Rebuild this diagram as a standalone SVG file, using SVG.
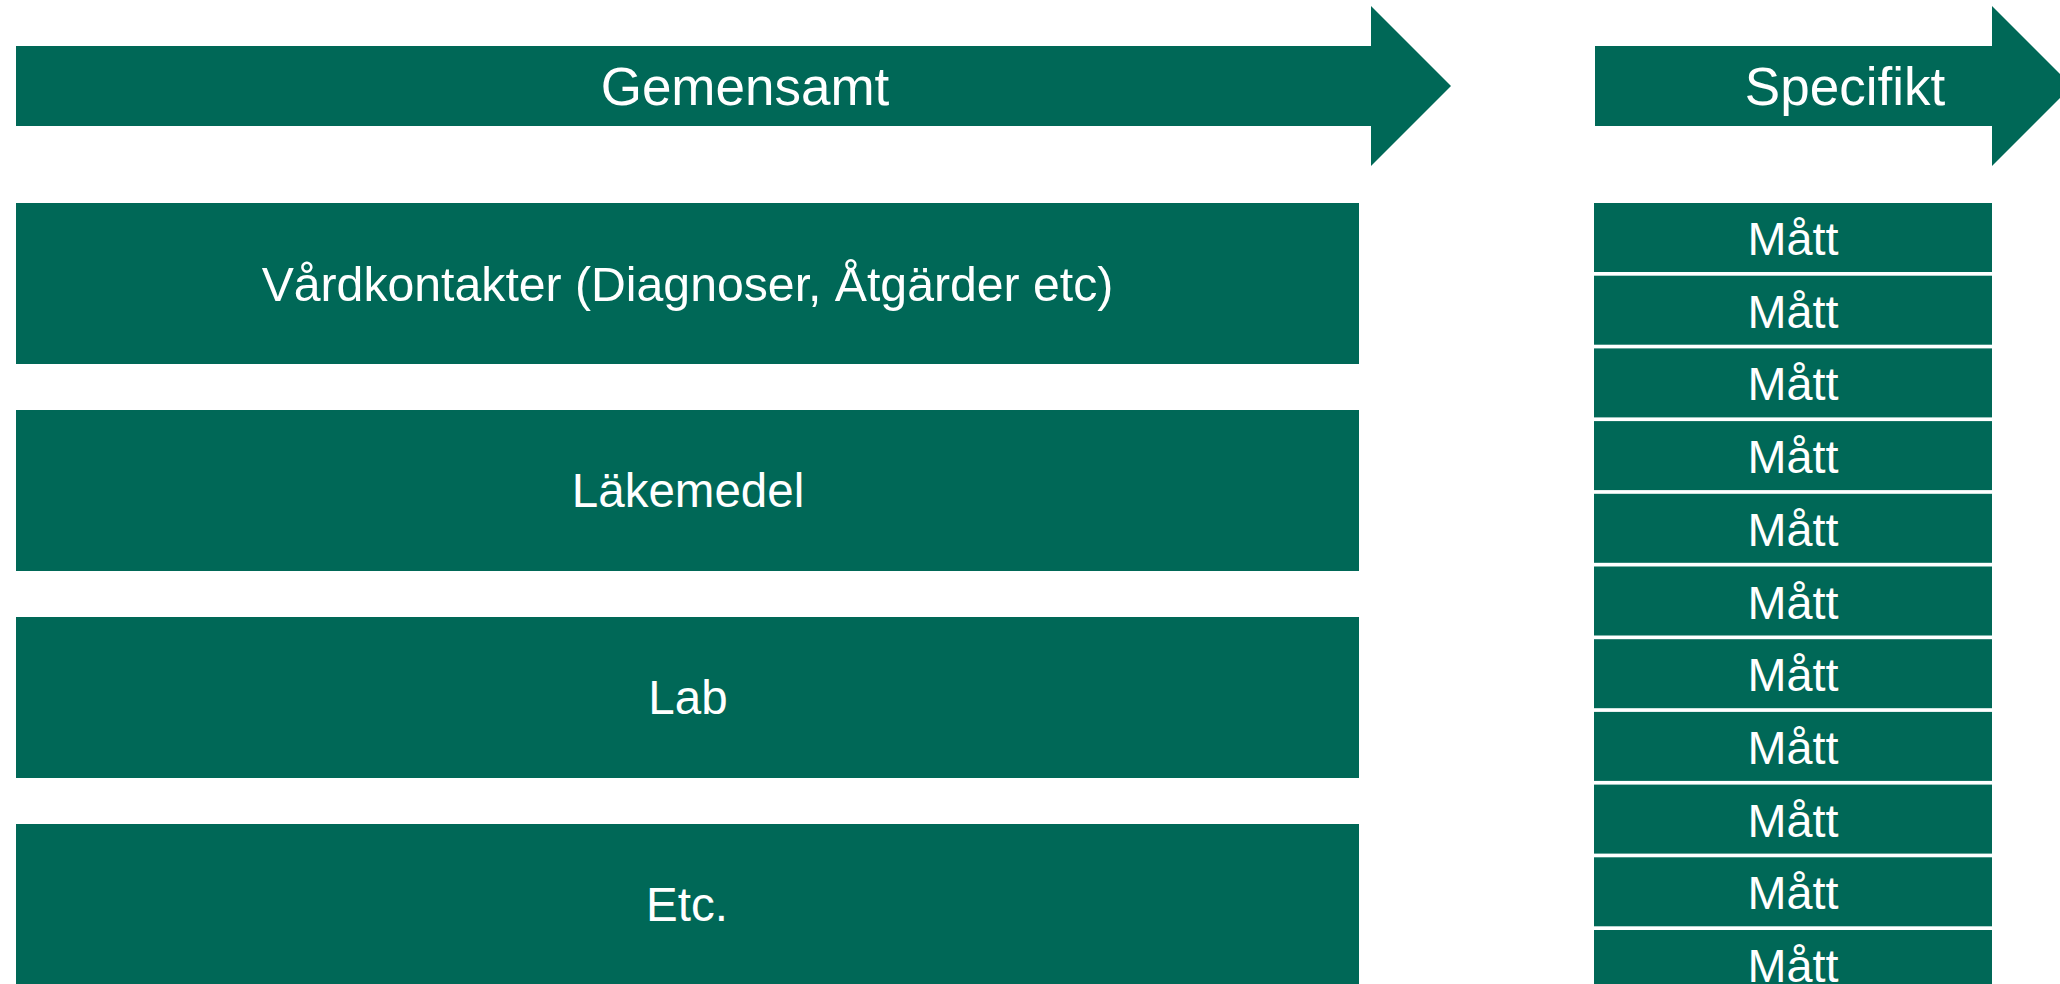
<svg xmlns="http://www.w3.org/2000/svg" width="2060" height="984" viewBox="0 0 2060 984">
<style>
.f{fill:#006857}
.t{fill:#ffffff;font-family:"Liberation Sans",Arial,sans-serif;text-anchor:middle}
.h{font-size:53px}
.b{font-size:47.5px}
.m{font-size:46.8px}
</style>
<rect width="2060" height="984" fill="#ffffff"/>
<g id="arrow-gemensamt">
<polygon class="f" points="16,46 1371,46 1371,6 1451,86 1371,166 1371,126 16,126"/>
<text class="t h" x="745" y="105">Gemensamt</text>
</g>
<g id="arrow-specifikt">
<polygon class="f" points="1595,46 1992,46 1992,6 2072,86 1992,166 1992,126 1595,126"/>
<text class="t h" x="1845" y="105">Specifikt</text>
</g>
<g id="box-vardkontakter">
<rect class="f" x="16" y="203" width="1343" height="161"/>
<text class="t b" x="687.5" y="301" style="font-size:48.2px">Vårdkontakter (Diagnoser, Åtgärder etc)</text>
</g>
<g id="box-lakemedel">
<rect class="f" x="16" y="410" width="1343" height="161"/>
<text class="t b" x="688" y="507">Läkemedel</text>
</g>
<g id="box-lab">
<rect class="f" x="16" y="617" width="1343" height="161"/>
<text class="t b" x="688" y="714">Lab</text>
</g>
<g id="box-etc">
<rect class="f" x="16" y="824" width="1343" height="161"/>
<text class="t b" x="687" y="921">Etc.</text>
</g>
<g id="matt-1"><rect class="f" x="1594" y="203" width="398" height="69"/><text class="t m" x="1793" y="255">Mått</text></g>
<g id="matt-2"><rect class="f" x="1594" y="275.7" width="398" height="69"/><text class="t m" x="1793" y="327.7">Mått</text></g>
<g id="matt-3"><rect class="f" x="1594" y="348.4" width="398" height="69"/><text class="t m" x="1793" y="400.4">Mått</text></g>
<g id="matt-4"><rect class="f" x="1594" y="421.1" width="398" height="69"/><text class="t m" x="1793" y="473.1">Mått</text></g>
<g id="matt-5"><rect class="f" x="1594" y="493.8" width="398" height="69"/><text class="t m" x="1793" y="545.8">Mått</text></g>
<g id="matt-6"><rect class="f" x="1594" y="566.5" width="398" height="69"/><text class="t m" x="1793" y="618.5">Mått</text></g>
<g id="matt-7"><rect class="f" x="1594" y="639.2" width="398" height="69"/><text class="t m" x="1793" y="691.2">Mått</text></g>
<g id="matt-8"><rect class="f" x="1594" y="711.9" width="398" height="69"/><text class="t m" x="1793" y="763.9">Mått</text></g>
<g id="matt-9"><rect class="f" x="1594" y="784.6" width="398" height="69"/><text class="t m" x="1793" y="836.6">Mått</text></g>
<g id="matt-10"><rect class="f" x="1594" y="857.3" width="398" height="69"/><text class="t m" x="1793" y="909.3">Mått</text></g>
<g id="matt-11"><rect class="f" x="1594" y="930" width="398" height="69"/><text class="t m" x="1793" y="982">Mått</text></g>
<g id="connectors"></g>
</svg>
